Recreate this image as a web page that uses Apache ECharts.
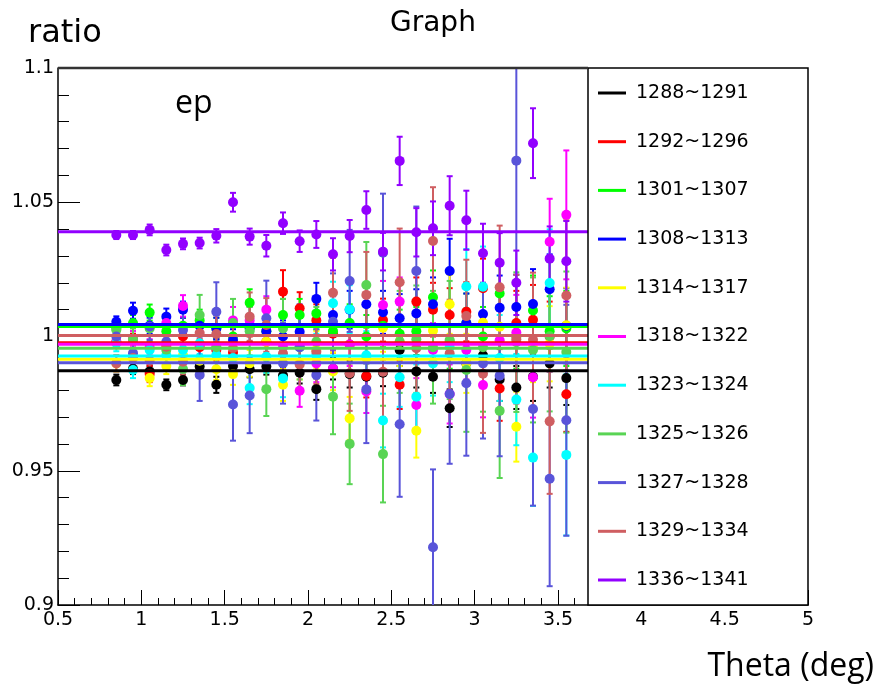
<!DOCTYPE html>
<html>
<head>
<meta charset="utf-8">
<script src="https://cdn.jsdelivr.net/npm/echarts@6/dist/echarts.min.js"></script>
<style>html,body{margin:0;padding:0;background:#fff;}#c{width:877px;height:695px;}</style>
</head>
<body>
<div id="c"></div>
<script>
// ---- data ----
const theta = [0.85,0.95,1.05,1.15,1.25,1.35,1.45,1.55,1.65,1.75,1.85,1.95,2.05,2.15,2.25,2.35,2.45,2.55,2.65,2.75,2.85,2.95,3.05,3.15,3.25,3.35,3.45,3.55];
const runNames = ['1288~1291','1292~1296','1301~1307','1308~1313','1314~1317','1318~1322','1323~1324','1325~1326','1327~1328','1329~1334','1336~1341'];
const runColors = ['#000000','#ff0000','#00ff00','#0000ff','#ffff00','#ff00ff','#00ffff','#59d454','#5954d9','#cf5e61','#9200ff'];
const fitLevels = [0.9872,0.9977,1.0037,1.0045,0.9915,0.9971,0.9927,0.9956,0.9902,1.0004,1.0390];

const v1288 = [0.9838,0.988,0.987,0.982,0.9838,0.9888,0.982,0.989,0.9878,0.9888,0.9855,0.9865,0.9804,0.988,0.986,0.985,0.9865,0.995,0.987,0.985,0.9733,0.990,0.993,0.984,0.981,0.985,0.990,0.9845];
const v1292 = [0.998,0.999,0.986,0.997,1.000,0.996,0.995,0.994,1.004,0.998,1.0167,1.0105,1.006,1.001,0.997,0.9853,1.0061,0.982,1.013,1.010,1.008,1.0092,1.018,0.9806,1.005,1.0062,1.000,0.9785];
const v1301 = [1.003,1.005,1.0089,1.002,1.004,1.006,1.003,1.000,1.0126,1.002,1.008,1.008,1.0086,1.002,1.005,1.000,1.004,1.001,1.002,1.0146,0.998,1.005,1.000,1.016,1.000,1.0097,1.002,1.003];
const v1308 = [1.0055,1.0096,1.004,1.0074,1.010,1.004,1.003,0.9987,1.003,1.002,1.000,1.0018,1.014,1.008,1.010,1.012,1.009,1.0068,1.0086,1.012,1.0244,1.005,1.0084,1.0107,1.011,1.0121,1.0176,1.004];
const v1314 = [0.990,0.992,0.9845,0.989,0.993,0.991,0.9878,0.986,0.990,0.998,0.982,0.990,0.995,0.987,0.9695,0.992,1.0033,0.998,0.9649,1.0022,1.012,0.990,1.0051,1.0036,0.9664,0.996,0.9973,1.0042];
const v1318 = [0.998,0.999,0.996,1.005,1.0114,0.997,0.996,1.006,1.006,1.0100,0.996,0.9798,0.990,0.9881,0.997,0.9795,1.0117,1.013,0.9745,0.995,0.9786,0.995,0.9819,0.9986,1.0015,0.9848,1.0353,1.0453];
const v1323 = [0.9975,0.9875,0.995,0.993,0.995,0.9975,0.9931,0.992,0.9808,0.9925,0.9844,0.996,0.993,1.0124,1.0101,0.993,0.9687,0.9848,0.9776,0.990,0.996,1.0186,1.0185,0.992,0.9765,0.9549,1.0199,0.9559];
const v1325 = [1.0024,0.999,1.003,0.995,0.9879,1.008,0.996,1.005,1.002,0.9804,1.003,0.996,0.998,0.9776,0.960,1.0192,0.9562,0.998,0.999,0.996,0.9987,0.9875,0.996,0.9723,0.9979,0.995,1.0001,0.9942];
const v1327 = [1.000,0.9938,1.0037,0.998,1.0024,0.9857,1.0092,0.9747,0.978,1.0068,0.990,0.996,0.9857,1.0055,1.0207,0.9803,1.0312,0.9673,1.0244,0.9215,0.9786,0.9826,0.990,0.9854,1.0655,0.973,0.947,0.9688];
const v1329 = [0.990,0.992,0.991,0.9962,0.9906,1.0013,1.0009,0.9956,1.0074,1.0043,0.9937,0.9896,0.9943,1.0163,0.9863,1.0155,0.9869,1.0202,0.9956,1.0356,0.9937,1.0076,0.9861,1.0183,0.999,0.9988,0.9684,1.0153];
const v1336 = [1.0378,1.0378,1.0397,1.0322,1.0345,1.0348,1.0375,1.050,1.0372,1.0338,1.0422,1.0355,1.038,1.0306,1.0374,1.0471,1.0316,1.0654,1.0388,1.0403,1.0487,1.0433,1.031,1.0275,1.020,1.072,1.029,1.028];

const e1288 = [.002,.002,.002,.002,.002,.002,.003,.003,.003,.003,.003,.004,.004,.004,.005,.005,.005,.006,.006,.006,.007,.007,.008,.008,.008,.009,.009,.010];
const e1292 = [.002,.002,.003,.003,.003,.003,.004,.004,.004,.005,.008,.006,.006,.007,.007,.008,.008,.009,.009,.010,.010,.011,.011,.012,.012,.013,.013,.014];
const e1301 = [.002,.003,.003,.003,.003,.004,.004,.004,.005,.005,.006,.006,.006,.007,.007,.008,.008,.009,.009,.010,.010,.011,.011,.012,.012,.013,.013,.014];
const e1308 = [.002,.003,.003,.003,.003,.004,.004,.004,.005,.005,.006,.006,.006,.007,.007,.008,.008,.009,.009,.010,.012,.011,.011,.012,.012,.013,.013,.014];
const e1314 = [.003,.003,.003,.003,.003,.004,.004,.004,.005,.005,.006,.006,.007,.007,.008,.008,.009,.009,.010,.010,.011,.011,.012,.012,.013,.013,.014,.014];
const e1318 = [.002,.003,.003,.003,.004,.004,.004,.005,.005,.005,.006,.006,.007,.007,.008,.008,.009,.009,.010,.010,.011,.011,.012,.013,.014,.015,.016,.024];
const e1323 = [.003,.003,.003,.004,.004,.004,.005,.005,.006,.006,.007,.007,.008,.008,.009,.009,.010,.011,.012,.012,.013,.014,.015,.016,.017,.018,.020,.030];
const e1325 = [.004,.004,.005,.005,.006,.0075,.008,.009,.009,.010,.011,.012,.013,.014,.015,.016,.018,.019,.020,.021,.022,.023,.024,.025,.026,.027,.028,.030];
const e1327 = [.003,.004,.005,.006,.007,.0097,.011,.0135,.014,.014,.015,.016,.017,.018,.019,.020,.022,.027,.024,.029,.026,.027,.028,.030,.045,.036,.040,.043];
const e1329 = [.003,.003,.004,.004,.005,.006,.007,.008,.009,.010,.010,.011,.012,.013,.014,.016,.017,.020,.018,.020,.020,.021,.022,.023,.024,.025,.027,.028];
const e1336 = [.0015,.0015,.002,.002,.002,.002,.0025,.0035,.003,.004,.004,.004,.005,.006,.006,.007,.007,.009,.009,.010,.011,.011,.011,.011,.012,.013,.012,.015];

const yTicks = [0.9, 0.95, 1, 1.05, 1.1];
const xTicks = [0.5, 1, 1.5, 2, 2.5, 3, 3.5, 4, 4.5, 5];

const runValues = [v1288,v1292,v1301,v1308,v1314,v1318,v1323,v1325,v1327,v1329,v1336];
const runErrors = [e1288,e1292,e1301,e1308,e1314,e1318,e1323,e1325,e1327,e1329,e1336];

// ---- chart ----
const chart = echarts.init(document.getElementById('c'), null, {renderer: 'canvas'});

function errRender(color) {
  return function (params, api) {
    const cs = params.coordSys;
    const top = cs.y, bot = cs.y + cs.height;
    const p = api.coord([api.value(0), api.value(1)]);
    const q = api.coord([api.value(0), api.value(2)]);
    const y1 = p[1], y2 = q[1];
    const ch = [];
    const cy1 = Math.min(Math.max(y1, top), bot);
    const cy2 = Math.min(Math.max(y2, top), bot);
    ch.push({type: 'line', shape: {x1: p[0], y1: cy1, x2: p[0], y2: cy2}, style: {stroke: color, lineWidth: 2}});
    if (y1 <= bot && y1 >= top) ch.push({type: 'line', shape: {x1: p[0] - 3, y1: y1, x2: p[0] + 3, y2: y1}, style: {stroke: color, lineWidth: 2}});
    if (y2 <= bot && y2 >= top) ch.push({type: 'line', shape: {x1: p[0] - 3, y1: y2, x2: p[0] + 3, y2: y2}, style: {stroke: color, lineWidth: 2}});
    return {type: 'group', children: ch};
  };
}

const series = [];
runNames.forEach((name, k) => {
  const color = runColors[k];
  const vals = runValues[k], errs = runErrors[k];
  series.push({
    name: name, type: 'custom', renderItem: errRender(color),
    data: theta.map((x, i) => [x, vals[i] - errs[i], vals[i] + errs[i]]),
    encode: {x: 0, y: [1, 2]}, itemStyle: {color: color}, silent: true, animation: false
  });
  series.push({
    name: name, type: 'scatter', symbol: 'circle', symbolSize: 10,
    itemStyle: {color: color, opacity: 1},
    data: theta.map((x, i) => [x, vals[i]]), animation: false
  });
  series.push({
    name: name, type: 'line', showSymbol: false, symbol: 'none',
    lineStyle: {color: color, width: 3}, itemStyle: {color: color},
    data: [[0.5, fitLevels[k]], [5, fitLevels[k]]], animation: false, silent: true
  });
});

const option = {
  backgroundColor: '#fff',
  animation: false,
  grid: {left: 58, top: 68, width: 750, height: 537, containLabel: false},
  xAxis: {
    type: 'value', min: 0.5, max: 5, interval: 0.5,
    axisLine: {show: true, onZero: false, lineStyle: {color: '#000', width: 1.5}},
    axisTick: {show: true, inside: true, length: 15, lineStyle: {color: '#000', width: 1}},
    minorTick: {show: true, splitNumber: 5, length: 7, lineStyle: {color: '#000', width: 1}},
    splitLine: {show: false},
    axisLabel: {color: '#000', fontFamily: 'DejaVu Sans', fontSize: 19, margin: 6,
      formatter: v => { const t = xTicks.find(a => Math.abs(a - v) < 1e-6); return t === undefined ? '' : String(t); }}
  },
  yAxis: {
    type: 'value', min: 0.9, max: 1.1, interval: 0.05,
    axisLine: {show: true, onZero: false, lineStyle: {color: '#000', width: 1.5}},
    axisTick: {show: true, inside: true, length: 22, lineStyle: {color: '#000', width: 1}},
    minorTick: {show: true, splitNumber: 5, length: 11, lineStyle: {color: '#000', width: 1}},
    splitLine: {show: false},
    axisLabel: {color: '#000', fontFamily: 'DejaVu Sans', fontSize: 19, margin: 4,
      formatter: v => { const t = yTicks.find(a => Math.abs(a - v) < 1e-6); return t === undefined ? '' : String(t); }}
  },
  legend: {
    orient: 'vertical', left: 598, top: 83, padding: 0, zlevel: 2, z: 10,
    itemWidth: 28, itemHeight: 3, itemGap: 28.7, icon: 'rect',
    textStyle: {fontFamily: 'DejaVu Sans', fontSize: 19, color: '#000', lineHeight: 20, padding: [0, 0, 0, 5]},
    data: runNames.map((n, k) => ({name: n, icon: 'rect', itemStyle: {color: runColors[k]}}))
  },
  graphic: [
    {type: 'rect', zlevel: 1, z: 0, shape: {x: 588, y: 68, width: 220, height: 537}, style: {fill: '#fff', stroke: '#000', lineWidth: 1.5}},
    {type: 'line', zlevel: 1, z: 0, shape: {x1: 58, y1: 68, x2: 588, y2: 68}, style: {stroke: '#333', lineWidth: 2.5}},
    {type: 'text', left: 390, top: 10, style: {text: 'Graph', fontFamily: 'DejaVu Sans', fontSize: 28, fill: '#000'}},
    {type: 'text', left: 28, top: 18, style: {text: 'ratio', fontFamily: 'DejaVu Sans', fontSize: 32, fill: '#000'}},
    {type: 'text', left: 175, top: 88, style: {text: 'ep', fontFamily: 'Open Sans', fontSize: 32, fill: '#000'}},
    {type: 'text', right: 3, top: 651, style: {text: 'Theta (deg)', fontFamily: 'Open Sans', fontSize: 32, fill: '#000'}}
  ],
  series: series
};
chart.setOption(option);
</script>
</body>
</html>
